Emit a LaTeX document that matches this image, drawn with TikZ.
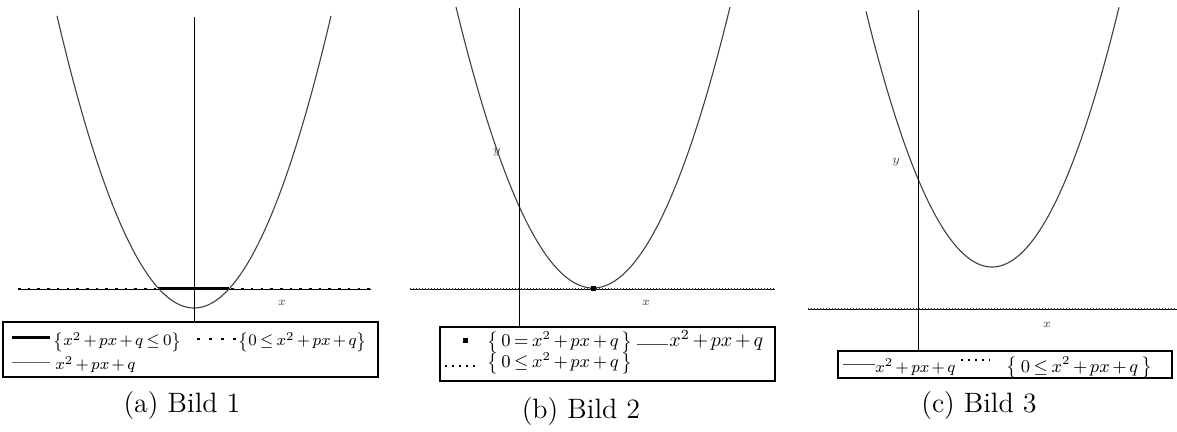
\documentclass[tikz,border=0pt]{standalone}
\usepackage{amsmath}
\newcommand{\mset}[1]{\left\{#1\right\}}
\newcommand{\msetw}[1]{\left\{\,#1\,\right\}}
\newcommand{\msetww}[1]{\left\{\;#1\;\right\}}
\newcommand{\tightmath}{\medmuskip=2.5mu\thickmuskip=3.5mu\relax}
\begin{document}
\begin{tikzpicture}[x=0.5pt,y=-0.5pt,
  axisline/.style={line width=0.5pt, black},
  curve/.style={line width=0.55pt, black!75},
  legendbox/.style={draw, line width=0.75pt},
  lgtext/.style={anchor=base west, inner sep=0pt, font=\fontsize{9}{11}\selectfont\tightmath},
  lgtexta/.style={anchor=base west, inner sep=0pt, font=\fontsize{8.5}{11}\selectfont\tightmath},
  lgtextb/.style={anchor=base west, inner sep=0pt, font=\fontsize{9.8}{11}\selectfont\tightmath},
  lgtextc/.style={anchor=base west, inner sep=0pt, font=\fontsize{8.4}{11}\selectfont\tightmath},
  axlabel/.style={font=\fontsize{6}{7}\selectfont, text=black!70, inner sep=0pt},
  captext/.style={font=\fontsize{14}{16}\selectfont, anchor=base, inner sep=0pt},
  bigdots/.style={line width=1.3pt, dash pattern=on 1.3pt off 3.55pt},
  finedots/.style={line width=0.7pt, black!80, dash pattern=on 0.4pt off 1.1pt},
  smalldots/.style={line width=1pt, dash pattern=on 1pt off 2.5pt}]
\useasboundingbox (0,0) rectangle (1177,432);

% ---------- panel (a) ----------
\draw[line width=0.4pt] (18,289) -- (371,289);
\draw[bigdots] (18,289) -- (372,289);
\draw[line width=1.5pt] (158,289) -- (229,289);
\draw[curve] plot[domain=57:331, samples=120] (\x, {308-0.01556*(\x-194)*(\x-194)});
\draw[axisline] (194,17) -- (194,322);
\node[axlabel] (ax) at (282,303) {$x$};
\node[legendbox, minimum width=187.5pt, minimum height=27.5pt, inner sep=0pt] (lega) at (190.5,349.5) {};
\draw[line width=1.5pt] (12,338) -- (50,338);
\node[lgtexta] (a1) at (53,346) {$\mset{x^2+px+q\le 0}$};
\draw[line width=1.3pt, dash pattern=on 1.3pt off 4.7pt] (197,339) -- (236,339);
\node[lgtexta] (a2) at (238,346) {$\mset{0\le x^2+px+q}$};
\draw[line width=0.5pt, black!60] (12,363) -- (50,363);
\node[lgtexta] (a3) at (55,370) {$x^2+px+q$};
\node[captext] (capa) at (182,413) {(a) Bild 1};

% ---------- panel (b) ----------
\draw[line width=0.4pt] (410,289) -- (775,289);
\draw[finedots] (410,289) -- (775,289);
\draw[curve] plot[domain=456:730, samples=120] (\x, {288-0.01497*(\x-593)*(\x-593)});
\draw[axisline] (519,8) -- (519,327);
\fill (590.5,286.5) rectangle (595.5,291.5);
\node[axlabel] (by) at (497,152) {$y$};
\node[axlabel] (bx) at (646,303) {$x$};
\node[legendbox, minimum width=167.5pt, minimum height=27pt, inner sep=0pt] (legb) at (607.5,354) {};
\fill (462.5,338.5) rectangle (467.5,343.5);
\node[lgtext] (b1) at (487,347) {$\msetw{0=x^2+px+q}$};
\draw[line width=0.5pt, black!70] (637,345) -- (668,345);
\node[lgtextb] (b2) at (669,347) {$x^2+px+q$};
\draw[smalldots] (445,366) -- (476,366);
\node[lgtext] (b3) at (487,368) {$\msetw{0\le x^2+px+q}$};
\node[captext] (capb) at (581,418) {(b) Bild 2};

% ---------- panel (c) ----------
\draw[line width=0.4pt] (808,309) -- (1177,309);
\draw[finedots] (808,309) -- (1177,309);
\draw[curve] plot[domain=866:1119, samples=120] (\x, {267-0.0161*(\x-992)*(\x-992)});
\draw[axisline] (918,10) -- (918,351);
\node[axlabel] (cy) at (896,162) {$y$};
\node[axlabel] (cx) at (1047,325) {$x$};
\node[legendbox, minimum width=167pt, minimum height=13.5pt, inner sep=0pt] (legc) at (1005,364.5) {};
\draw[line width=0.5pt, black!70] (843,365) -- (875,365);
\node[lgtextc] (c1) at (875,372) {$x^2+px+q$};
\draw[smalldots] (961,360) -- (990,360);
\node[lgtext] (c2) at (1006,372) {$\msetww{0\le x^2+px+q}$};
\node[captext] (capc) at (979,413) {(c) Bild 3};
\end{tikzpicture}
\end{document}
